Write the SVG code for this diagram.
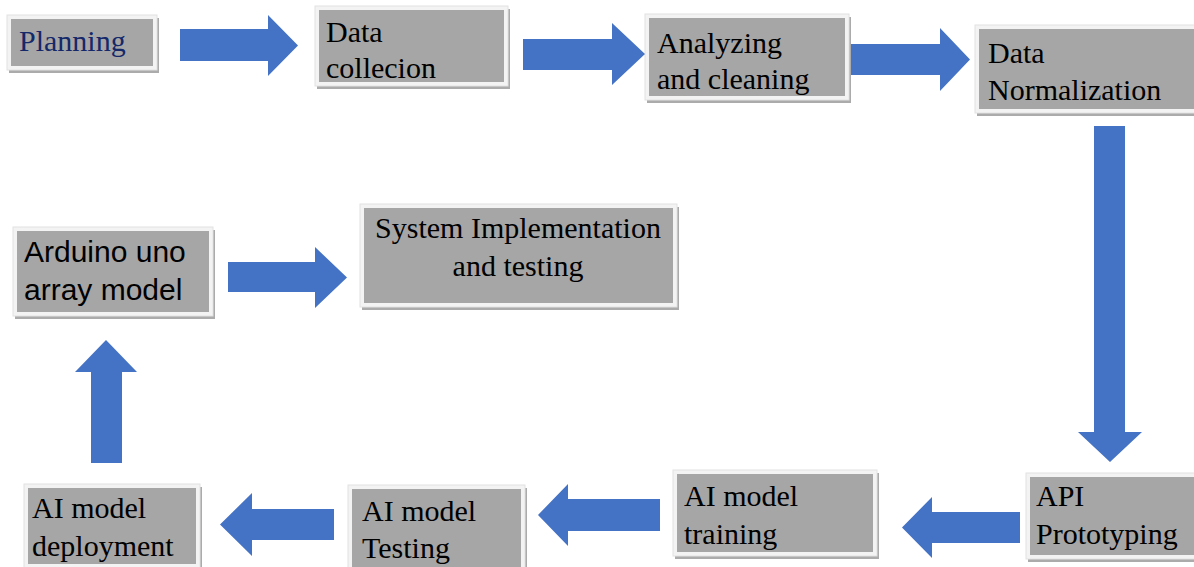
<svg xmlns="http://www.w3.org/2000/svg" width="1194" height="567" viewBox="0 0 1194 567">
  <style>
    .shadow { fill: #8f8f8f; opacity: 0.75; }
    .frame { fill: #f3f3f3; stroke: #e2e2e2; stroke-width: 1; }
    .body { fill: #a6a6a6; }
    .label { font-family: "Liberation Serif", "Times New Roman", serif; font-size: 30px; fill: #000; }
    .sans { font-family: "Liberation Sans", Arial, sans-serif; font-size: 30px; fill: #000; }
    .navy { fill: #14286a; }
    .arrow { fill: #4472c4; }
  </style>

  <rect width="1194" height="567" fill="#ffffff"/>

  <!-- process steps -->
  <g id="planning">
    <rect class="shadow" x="9" y="18" width="150" height="55"/>
    <rect class="frame" x="7" y="15" width="150" height="55"/>
    <rect class="body" x="11" y="19" width="142" height="47"/>
    <text class="label navy" x="19" y="51">Planning</text>
  </g>

  <g id="data-collection">
    <rect class="shadow" x="317" y="9" width="193" height="80"/>
    <rect class="frame" x="315" y="6" width="193" height="80"/>
    <rect class="body" x="319" y="10" width="185" height="72"/>
    <text class="label" x="326" y="42">Data</text>
    <text class="label" x="326" y="78">collecion</text>
  </g>

  <g id="analyzing">
    <rect class="shadow" x="647" y="17" width="204" height="86"/>
    <rect class="frame" x="645" y="14" width="204" height="86"/>
    <rect class="body" x="649" y="18" width="196" height="78"/>
    <text class="label" x="657" y="53">Analyzing</text>
    <text class="label" x="657" y="89">and cleaning</text>
  </g>

  <g id="normalization">
    <rect class="shadow" x="977" y="28" width="222" height="88"/>
    <rect class="frame" x="975" y="25" width="222" height="88"/>
    <rect class="body" x="979" y="29" width="222" height="80"/>
    <text class="label" x="988" y="63">Data</text>
    <text class="label" x="988" y="100">Normalization</text>
  </g>

  <g id="api-prototyping">
    <rect class="shadow" x="1028" y="476" width="172" height="86"/>
    <rect class="frame" x="1026" y="473" width="172" height="86"/>
    <rect class="body" x="1030" y="477" width="172" height="78"/>
    <text class="label" x="1036" y="506">API</text>
    <text class="label" x="1036" y="544">Prototyping</text>
  </g>

  <g id="model-training">
    <rect class="shadow" x="675" y="473" width="204" height="86"/>
    <rect class="frame" x="673" y="470" width="204" height="86"/>
    <rect class="body" x="677" y="474" width="196" height="78"/>
    <text class="label" x="684" y="506">AI model</text>
    <text class="label" x="684" y="544">training</text>
  </g>

  <g id="model-testing">
    <rect class="shadow" x="350" y="488" width="177" height="85"/>
    <rect class="frame" x="348" y="485" width="177" height="85"/>
    <rect class="body" x="352" y="489" width="169" height="80"/>
    <text class="label" x="362" y="521">AI model</text>
    <text class="label" x="362" y="558">Testing</text>
  </g>

  <g id="model-deployment">
    <rect class="shadow" x="26" y="487" width="176" height="84"/>
    <rect class="frame" x="24" y="484" width="176" height="84"/>
    <rect class="body" x="28" y="488" width="168" height="76"/>
    <text class="label" x="32" y="518">AI model</text>
    <text class="label" x="32" y="556">deployment</text>
  </g>

  <g id="arduino">
    <rect class="shadow" x="15" y="230" width="200" height="89"/>
    <rect class="frame" x="13" y="227" width="200" height="89"/>
    <rect class="body" x="17" y="231" width="192" height="81"/>
    <text class="sans" x="24" y="262">Arduino uno</text>
    <text class="sans" x="24" y="300">array model</text>
  </g>

  <g id="system-implementation">
    <rect class="shadow" x="362" y="207" width="317" height="103"/>
    <rect class="frame" x="360" y="204" width="317" height="103"/>
    <rect class="body" x="364" y="208" width="309" height="95"/>
    <text class="label" x="518" y="238" text-anchor="middle">System Implementation</text>
    <text class="label" x="518" y="276" text-anchor="middle">and testing</text>
  </g>

  <!-- block arrows between steps -->
  <g id="connectors">
    <polygon class="arrow" points="180,29 268,29 268,15 298,45.5 268,76 268,61 180,61"/>
    <polygon class="arrow" points="523,39 612,39 612,23 645,54 612,85 612,70 523,70"/>
    <polygon class="arrow" points="851,44 940,44 940,28 970,59.5 940,91 940,75 851,75"/>
    <polygon class="arrow" points="1094,126 1125,126 1125,432 1142,432 1110,462 1078,432 1094,432"/>
    <polygon class="arrow" points="1020,512 932,512 932,497 902,527.5 932,558 932,543 1020,543"/>
    <polygon class="arrow" points="660,499 568,499 568,484 538,515 568,546 568,531 660,531"/>
    <polygon class="arrow" points="334,509 252,509 252,493 220,524.5 252,556 252,540 334,540"/>
    <polygon class="arrow" points="91,463 91,372 75,372 106,340 137,372 122,372 122,463"/>
    <polygon class="arrow" points="228,262 315,262 315,247 347,277.5 315,308 315,292 228,292"/>
  </g>
</svg>
